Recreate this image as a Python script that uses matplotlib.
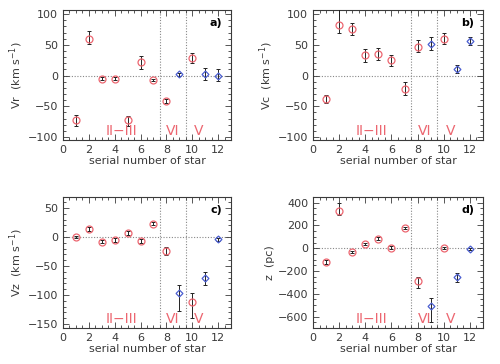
import numpy as np
import matplotlib.pyplot as plt
from matplotlib.ticker import MultipleLocator

# serial number of star
star = np.arange(1, 13)
blue_stars = [9, 11, 12]

# a) Vr
vr = [-73, 60, -5, -5, -73, 22, -7, -41, 2, 28, 2, 0]
vr_lo = [9, 8, 2, 2, 9, 11, 2, 3, 3, 8, 9, 9]
vr_hi = [9, 13, 2, 2, 7, 10, 2, 3, 3, 9, 10, 10]

# b) Vc
vc = [-38, 83, 76, 33, 35, 26, -21, 46, 52, 59, 11, 56]
vc_lo = [7, 14, 10, 11, 10, 11, 11, 8, 10, 7, 6, 6]
vc_hi = [7, 25, 10, 10, 10, 7, 11, 12, 10, 11, 7, 6]

# c) Vz
vz = [0, 14, -8, -5, 7, -7, 23, -25, -97, -112, -70, -4]
vz_lo = [2, 3, 3, 3, 3, 3, 3, 7, 31, 28, 13, 3]
vz_hi = [2, 3, 3, 3, 3, 3, 3, 8, 14, 15, 10, 3]

# d) z
zz = [-120, 330, -35, 40, 85, 5, 180, -290, -510, 0, -255, -5]
zz_lo = [20, 40, 10, 10, 10, 10, 10, 60, 140, 10, 45, 10]
zz_hi = [15, 70, 10, 10, 10, 10, 10, 40, 70, 10, 35, 10]

panels = [
    ("a)", r"Vr  (km s$^{-1}$)", vr, vr_lo, vr_hi, (-105, 107), 50, 10),
    ("b)", r"Vc  (km s$^{-1}$)", vc, vc_lo, vc_hi, (-105, 107), 50, 10),
    ("c)", r"Vz  (km s$^{-1}$)", vz, vz_lo, vz_hi, (-157, 69), 50, 10),
    ("d)", "z  (pc)", zz, zz_lo, zz_hi, (-700, 450), 200, 50),
]
positions = [
    [0.126, 0.615, 0.336, 0.358],
    [0.626, 0.615, 0.340, 0.358],
    [0.126, 0.099, 0.336, 0.360],
    [0.626, 0.099, 0.340, 0.360],
]
groups = [("II\u2212III", 4.5), ("VI", 8.5), ("V", 10.5)]

TXT = "#3a3a3a"
RED = "#ec6670"
BLUE = "#4a5ed0"

plt.rcParams["font.family"] = "DejaVu Sans"
fig = plt.figure(figsize=(5.0, 3.64), dpi=100)

for (tag, ylab, y, lo, hi, ylim, major, minor), pos in zip(panels, positions):
    ax = fig.add_axes(pos)
    y = np.array(y)
    lo = np.array(lo)
    hi = np.array(hi)
    isblue = np.isin(star, blue_stars)

    ax.axhline(0, color="#888888", ls=(0, (1, 1.5)), lw=0.8, zorder=1)
    ax.axvline(7.5, color="#888888", ls=(0, (1, 1.5)), lw=0.8, zorder=1)
    ax.axvline(9.5, color="#888888", ls=(0, (1, 1.5)), lw=0.8, zorder=1)

    ax.errorbar(star, y, yerr=[lo, hi], fmt="none", ecolor="#222222",
                elinewidth=0.7, capsize=1.2, capthick=0.7, zorder=3)
    ax.plot(star[~isblue], y[~isblue], "o", ms=5, mfc="none", mec=RED,
            mew=0.9, zorder=4)
    ax.plot(star[isblue], y[isblue], "D", ms=3.5, mfc="none", mec=BLUE,
            mew=0.9, zorder=4)

    ax.set_xlim(0, 13)
    ax.set_ylim(*ylim)
    ax.xaxis.set_major_locator(MultipleLocator(2))
    ax.xaxis.set_minor_locator(MultipleLocator(0.5))
    ax.yaxis.set_major_locator(MultipleLocator(major))
    ax.yaxis.set_minor_locator(MultipleLocator(minor))
    ax.tick_params(which="both", direction="in", top=True, right=True,
                   colors=TXT, labelsize=8, width=0.6)
    ax.tick_params(which="major", length=4)
    ax.tick_params(which="minor", length=2)
    for s in ax.spines.values():
        s.set_color(TXT)
        s.set_linewidth(0.8)

    ax.set_xlabel("serial number of star", fontsize=8, color=TXT, labelpad=1)
    ax.set_ylabel(ylab, fontsize=8, color=TXT, labelpad=2)

    ax.text(0.95, 0.9, tag, transform=ax.transAxes, ha="right", va="center",
            fontsize=8, color="black", fontweight="bold")
    for name, gx in groups:
        ax.text(gx, 0.07, name, transform=ax.get_xaxis_transform(),
                ha="center", va="center", fontsize=10, color=RED)

fig.savefig("out.png", dpi=100)
